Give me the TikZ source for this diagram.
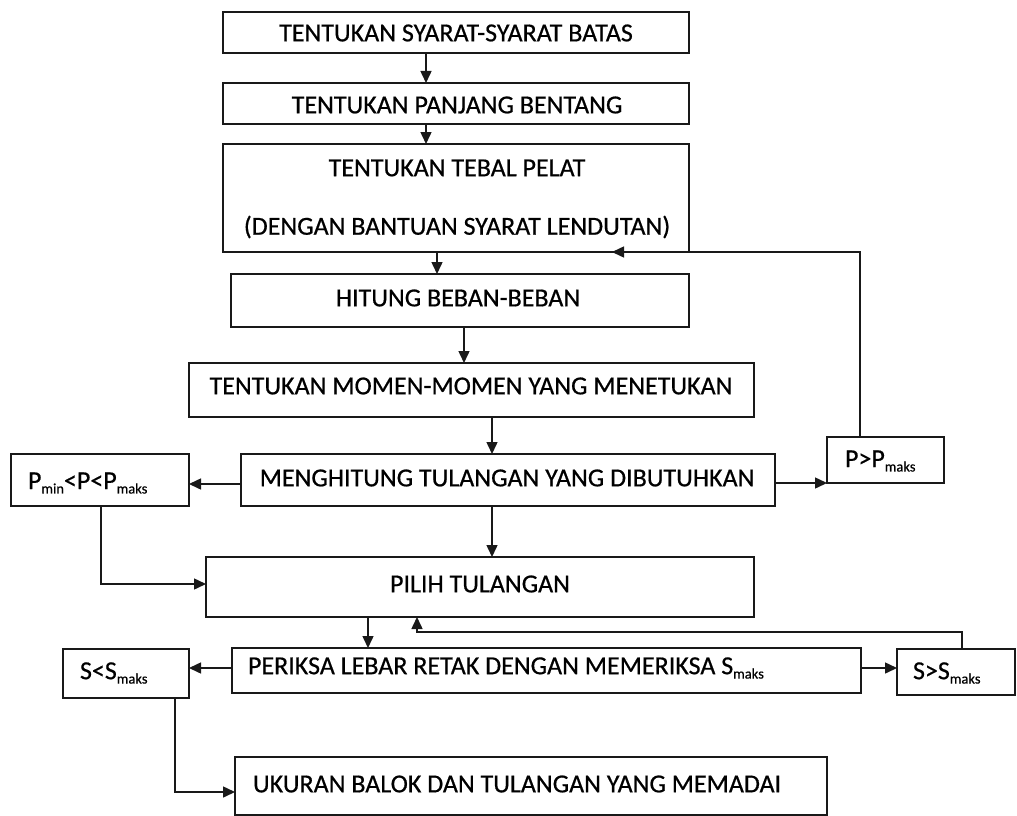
\documentclass[tikz,border=0pt]{standalone}
\usepackage{fontspec}
\setmainfont{Carlito}[FakeBold=0.6]
\usetikzlibrary{arrows.meta}
\newcommand\sbx[1]{\raisebox{-0.35ex}{\fontsize{14.5}{14.5}\selectfont #1}}
\begin{document}
\begin{tikzpicture}[x=1pt,y=-1pt,
  line width=1.5pt,
  every node/.style={inner sep=0pt,outer sep=0pt},
  box/.style={draw=black!90},
  txt/.style={font=\fontsize{26}{30}\selectfont, text=black},
  arr/.style={draw=black!90,-{Triangle[length=12pt,width=11pt]}}]
\useasboundingbox[fill=white] (0,0) rectangle (1017,816);
% boxes
\node[box,minimum width=466pt,minimum height=41pt] (b1) at (456,32.5) {};
\node[txt] at (456,33) {TENTUKAN SYARAT-SYARAT BATAS};
\node[box,minimum width=466pt,minimum height=41pt] (b2) at (456,103.5) {};
\node[txt] at (457,105) {TENTUKAN PANJANG BENTANG};
\node[box,minimum width=466pt,minimum height=108pt] (b3) at (456,198) {};
\node[txt] at (457,168) {TENTUKAN TEBAL PELAT};
\node[txt] at (457,227) {(DENGAN BANTUAN SYARAT LENDUTAN)};
\node[box,minimum width=458pt,minimum height=53pt] (b4) at (460,300.5) {};
\node[txt] at (458,298) {HITUNG BEBAN-BEBAN};
\node[box,minimum width=565pt,minimum height=54pt] (b5) at (471.5,390) {};
\node[txt] at (471,386) {TENTUKAN MOMEN-MOMEN YANG MENETUKAN};
\node[box,minimum width=534pt,minimum height=52pt] (b6) at (508,480) {};
\node[txt] at (507,478) {MENGHITUNG TULANGAN YANG DIBUTUHKAN};
\node[box,minimum width=178pt,minimum height=52pt] (pmin) at (100,480) {};
\node[txt,anchor=west] at (28,483) {P\sbx{min}<P<P\sbx{maks}};
\node[box,minimum width=117pt,minimum height=46pt] (pmax) at (885.5,460) {};
\node[txt,anchor=west] at (845,461) {P>P\sbx{maks}};
\node[box,minimum width=548pt,minimum height=60pt] (b7) at (480,587) {};
\node[txt] at (480,584) {PILIH TULANGAN};
\node[box,minimum width=629pt,minimum height=45pt] (b8) at (546.5,670.5) {};
\node[txt,anchor=west] at (248,668) {PERIKSA LEBAR RETAK DENGAN MEMERIKSA S\sbx{maks}};
\node[box,minimum width=126pt,minimum height=49pt] (smin) at (126,673.5) {};
\node[txt,anchor=west] at (80,673) {S<S\sbx{maks}};
\node[box,minimum width=118pt,minimum height=46pt] (smax) at (956,672) {};
\node[txt,anchor=west] at (913,673) {S>S\sbx{maks}};
\node[box,minimum width=592pt,minimum height=58pt] (b9) at (531,786) {};
\node[txt,anchor=west] at (253,784) {UKURAN BALOK DAN TULANGAN YANG MEMADAI};
% connectors
\draw[arr] (b1.south -| 426,0) -- (b2.north -| 426,0);
\draw[arr] (b2.south -| 426,0) -- (b3.north -| 426,0);
\draw[arr] (b3.south -| 437,0) -- (b4.north -| 437,0);
\draw[arr] (b4.south -| 464,0) -- (b5.north -| 464,0);
\draw[arr] (b5.south -| 492,0) -- (b6.north -| 492,0);
\draw[arr] (b6.west |- 0,484) -- (pmin.east |- 0,484);
\draw[arr] (b6.east |- pmax.south) -- (pmax.south west);
\coordinate (fb1) at (b3.south -| 612,0);
\draw[arr] (pmax.north -| 860,0) |- (fb1);
\draw[arr] (b6.south -| 492,0) -- (b7.north -| 492,0);
\draw[arr] (pmin.south -| 101,0) |- (b7.west |- 0,584);
\draw[arr] (b7.south -| 368,0) -- (b8.north -| 368,0);
\coordinate (fb2) at (417,632);
\draw[arr] (smax.north -| 962,0) |- (fb2) -- (b7.south -| fb2);
\draw[arr] (b8.west |- 0,668) -- (smin.east |- 0,668);
\draw[arr] (b8.east |- 0,668) -- (smax.west |- 0,668);
\draw[arr] (smin.south -| 175,0) |- (b9.west |- 0,792);
\end{tikzpicture}
\end{document}
